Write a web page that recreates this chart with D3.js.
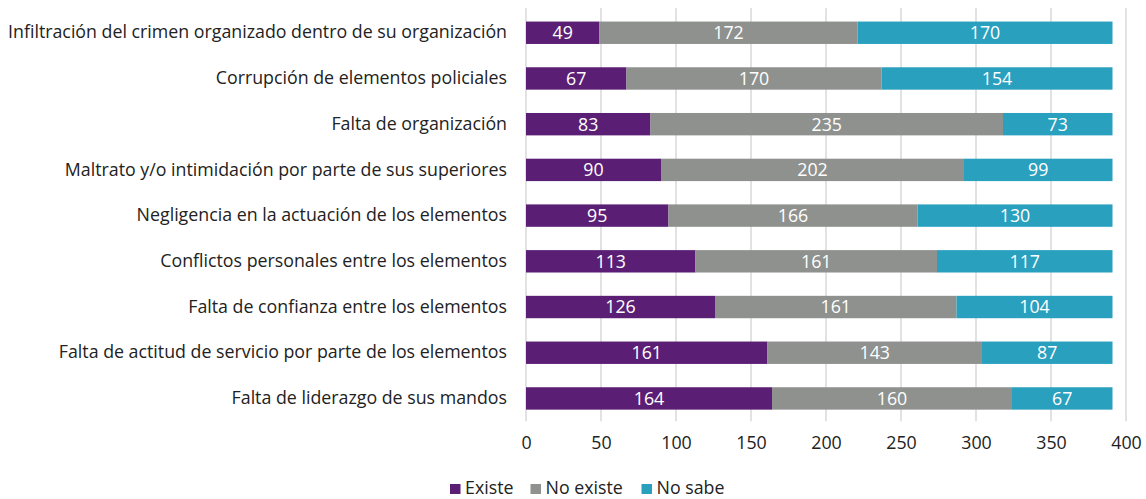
<!DOCTYPE html>
<html>
<head>
<meta charset="utf-8">
<script src="https://cdn.jsdelivr.net/npm/d3@7"></script>
<style>
  html, body { margin: 0; padding: 0; background: #fff; }
  svg { display: block; font-family: "Open Sans", "Noto Sans", sans-serif; }
</style>
</head>
<body>
<svg id="chart" width="1146" height="499"></svg>
<script>
// Categories, top to bottom
const categories = [
  "Infiltración del crimen organizado dentro de su organización",
  "Corrupción de elementos policiales",
  "Falta de organización",
  "Maltrato y/o intimidación por parte de sus superiores",
  "Negligencia en la actuación de los elementos",
  "Conflictos personales entre los elementos",
  "Falta de confianza entre los elementos",
  "Falta de actitud de servicio por parte de los elementos",
  "Falta de liderazgo de sus mandos"
];
const seriesNames = ["Existe", "No existe", "No sabe"];
const existe   = [49, 67, 83, 90, 95, 113, 126, 161, 164];
const noExiste = [172, 170, 235, 202, 166, 161, 161, 143, 160];
const noSabe   = [170, 154, 73, 99, 130, 117, 104, 87, 67];
const xTicks = [0, 50, 100, 150, 200, 250, 300, 350, 400];
const colors = ["#5a1f75", "#8e918e", "#2aa0bf"];
const FONT = '"Open Sans", "Noto Sans", sans-serif';
const FS = 17.8;

const rows = categories.map((c, i) => ({
  cat: c, "Existe": existe[i], "No existe": noExiste[i], "No sabe": noSabe[i]
}));

const svg = d3.select("#chart");
const plotLeft = 526, plotRight = 1126, plotTop = 9.9, plotBottom = 421.3;

const x = d3.scaleLinear().domain([0, 400]).range([plotLeft, plotRight]);
const y = d3.scaleBand().domain(categories).range([plotTop, plotBottom])
  .paddingInner(0.51).paddingOuter(0.255);

// vertical gridlines
svg.append("g").selectAll("line").data(xTicks).join("line")
  .attr("x1", d => x(d)).attr("x2", d => x(d))
  .attr("y1", plotTop - 2).attr("y2", plotBottom)
  .attr("stroke", "#d9d9d9").attr("stroke-width", 1.5);

const stacked = d3.stack().keys(seriesNames)(rows);

const layer = svg.append("g").selectAll("g").data(stacked).join("g")
  .attr("fill", (d, i) => colors[i]);

layer.selectAll("rect").data(d => d).join("rect")
  .attr("x", d => x(d[0]))
  .attr("y", d => y(d.data.cat))
  .attr("width", d => x(d[1]) - x(d[0]))
  .attr("height", y.bandwidth());

// value labels inside segments
svg.append("g").selectAll("g").data(stacked).join("g")
  .selectAll("text").data(d => d.map(s => ({ s, key: d.key }))).join("text")
  .attr("x", d => (x(d.s[0]) + x(d.s[1])) / 2)
  .attr("y", d => y(d.s.data.cat) + y.bandwidth() / 2)
  .attr("dy", "0.36em")
  .attr("text-anchor", "middle")
  .attr("fill", "#fff")
  .attr("font-size", FS)
  .text(d => d.s.data[d.key]);

// category axis labels
const yAxis = d3.axisLeft(y).tickSize(0).tickPadding(19);
const gy = svg.append("g").attr("transform", `translate(${plotLeft},0)`).call(yAxis)
  .attr("font-family", FONT).attr("font-size", FS);
gy.select(".domain").remove();
gy.selectAll("text").attr("fill", "#222");

// value axis
const xAxis = d3.axisBottom(x).tickValues(xTicks).tickSize(0).tickPadding(15);
const gx = svg.append("g").attr("transform", `translate(0,${plotBottom})`).call(xAxis)
  .attr("font-family", FONT).attr("font-size", FS);
gx.select(".domain").remove();
gx.selectAll("text").attr("fill", "#222");

// legend
const legendX = [450, 530.5, 641.5];
const lg = svg.append("g").selectAll("g").data(seriesNames).join("g")
  .attr("transform", (d, i) => `translate(${legendX[i]},493.5)`);
lg.append("rect").attr("x", 0).attr("y", -9.5).attr("width", 10.5).attr("height", 10)
  .attr("fill", (d, i) => colors[i]);
lg.append("text").attr("x", 15).attr("y", 0)
  .attr("font-size", FS).attr("fill", "#222").text(d => d);
</script>
</body>
</html>
